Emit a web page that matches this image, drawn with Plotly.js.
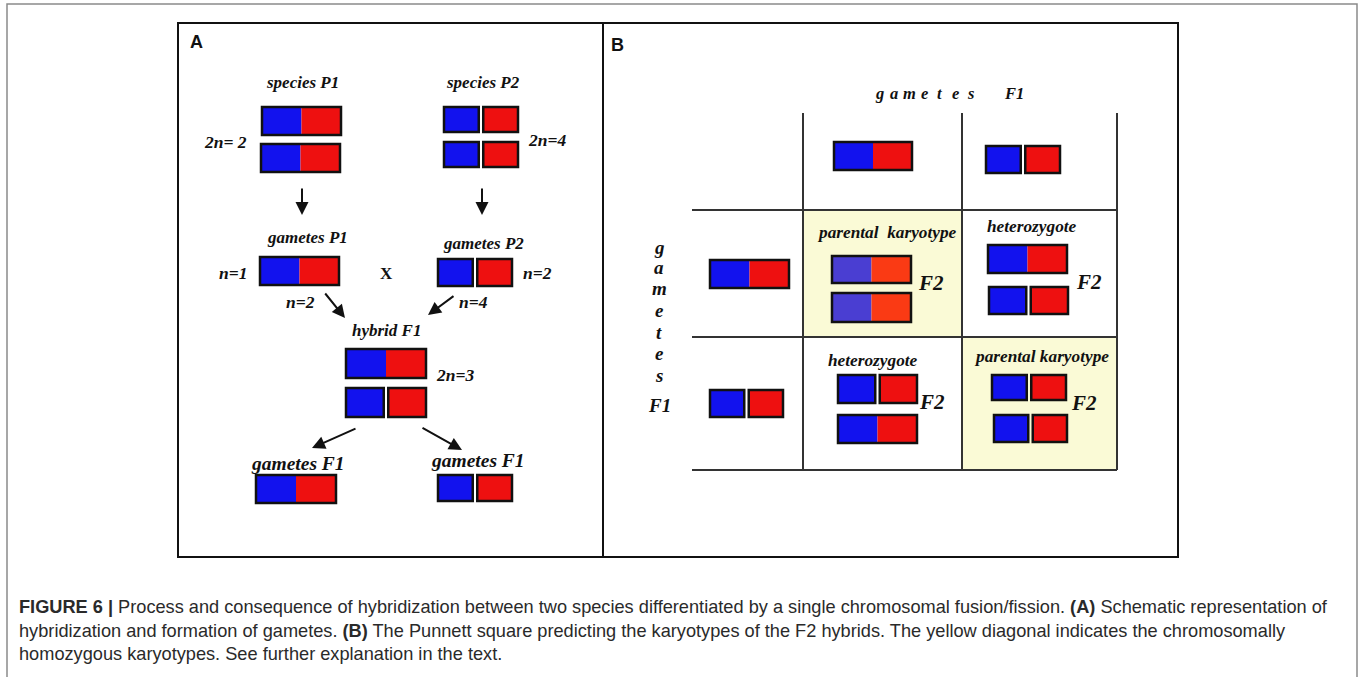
<!DOCTYPE html>
<html><head><meta charset="utf-8">
<script src="https://cdn.plot.ly/plotly-3.0.1.min.js"></script>
<style>html,body{margin:0;padding:0;background:#fff;overflow:hidden;}</style>
</head><body><div id="chart" style="width:1358px;height:677px;"></div>
<script>
// ---------------- data ----------------
const parentP1 = ['fused', 'fused'];          // species P1, 2n=2
const parentP2 = ['split', 'split'];          // species P2, 2n=4
const gameteP1 = ['fused'];                   // n=1
const gameteP2 = ['split'];                   // n=2
const hybridF1 = ['fused', 'split'];          // 2n=3
const gametesF1 = ['fused', 'split'];         // two gamete types of F1
const punnettCells = [
  [['fused', 'fused'], ['fused', 'split']],
  [['split', 'fused'], ['split', 'split']]
];
const cellLabels = [['parental  karyotype', 'heterozygote'], ['heterozygote', 'parental karyotype']];
const homozygous = [[true, false], [false, true]];
const ploidyLabels = ['2n= 2', '2n=4', 'n=1', 'n=2', 'n=2', 'n=4', '2n=3'];
const stageLabels = ['species P1', 'species P2', 'gametes P1', 'gametes P2', 'hybrid F1', 'gametes F1', 'gametes F1'];
const offspringLabel = 'F2';
const punnettAxisLetters = ['g', 'a', 'm', 'e', 't', 'e', 's'];
const punnettAxisGen = 'F1';
const panelLetters = ['A', 'B'];
const captionLines = [
  '<b>FIGURE 6 |</b> Process and consequence of hybridization between two species differentiated by a single chromosomal fusion/fission. <b>(A)</b> Schematic representation of',
  'hybridization and formation of gametes. <b>(B)</b> The Punnett square predicting the karyotypes of the F2 hybrids. The yellow diagonal indicates the chromosomally',
  'homozygous karyotypes. See further explanation in the text.'
];

// ---------------- layout (positions / styles) ----------------
const BLUE = '#1212ee', RED = '#ee1010';
const BLUE2 = '#4a3ed2', RED2 = '#fa3a14';
const YELLOW = '#fafad6';
const shapes = [];
const ann = [];

function rect(x0, y0, x1, y1, fill, lineColor, lw) {
  shapes.push({type: 'rect', xref: 'x', yref: 'y', x0, y0, x1, y1,
    fillcolor: fill || 'rgba(0,0,0,0)',
    line: {color: lineColor || 'rgba(0,0,0,0)', width: lw || 0}});
}
function line(x0, y0, x1, y1, color, w) {
  shapes.push({type: 'line', xref: 'x', yref: 'y', x0, y0, x1, y1, line: {color, width: w}});
}
function chrom(box, type, blue, red) {
  const [x0, y0, x1, y1] = box;
  blue = blue || BLUE; red = red || RED;
  if (type === 'fused') {
    const m = (x0 + x1) / 2;
    rect(x0, y0, m, y1, blue);
    rect(m, y0, x1, y1, red);
    rect(x0, y0, x1, y1, null, '#111', 2.5);
  } else {
    const gap = 4.5;
    const w = (x1 - x0 - gap) / 2;
    rect(x0, y0, x0 + w, y1, blue, '#111', 2.5);
    rect(x1 - w, y0, x1, y1, red, '#111', 2.5);
  }
}
const SERIF = 'Liberation Serif, Times New Roman, serif';
const SANS = 'Liberation Sans, Arial, sans-serif';
function label(text, x, y, size, opts) {
  opts = opts || {};
  ann.push({text, x, y, xref: 'x', yref: 'y', showarrow: false,
    xanchor: opts.xanchor || 'center', yanchor: 'middle',
    font: {family: opts.family || SERIF, size, color: opts.color || '#111',
      style: opts.style || 'italic', weight: opts.weight || 'bold'}});
}
function arrow(x0, y0, x1, y1) {
  ann.push({text: '', x: x1, y: y1, ax: x0, ay: y0, xref: 'x', yref: 'y', axref: 'x', ayref: 'y',
    showarrow: true, arrowhead: 2, arrowsize: 1.3, arrowwidth: 2, arrowcolor: '#111'});
}

// outer frame and panel borders
rect(7, 4, 1357, 700, null, '#8a8a8a', 1.5);
rect(178, 23, 1178, 557, null, '#111', 2);
line(603, 23, 603, 557, '#111', 2);
label(panelLetters[0], 196, 42, 18, {family: SANS, style: 'normal'});
label(panelLetters[1], 617, 45, 18, {family: SANS, style: 'normal'});

// ---- Panel A ----
const slotP1 = [[262, 107, 341, 135], [261, 144, 340, 172]];
const slotP2 = [[444, 107, 518, 132], [444, 142, 518, 167]];
parentP1.forEach((t, i) => chrom(slotP1[i], t));
parentP2.forEach((t, i) => chrom(slotP2[i], t));
chrom([260, 257, 339, 285], gameteP1[0]);
chrom([438, 259, 512, 286], gameteP2[0]);
const slotF1 = [[346, 349, 426, 378], [346, 388, 426, 417]];
hybridF1.forEach((t, i) => chrom(slotF1[i], t));
const slotGF1 = [[256, 475, 336, 503], [438, 475, 512, 501]];
gametesF1.forEach((t, i) => chrom(slotGF1[i], t));

const stagePos = [[302, 82], [483, 82], [307, 237], [483, 243], [386, 330], [298, 463], [478, 460]];
const stageSize = [17, 17, 17, 17, 17, 19.5, 19.5];
stageLabels.forEach((s, i) => label(s, stagePos[i][0], stagePos[i][1], stageSize[i]));
const ploidyPos = [[225, 142], [547, 140], [233, 273], [537, 273], [300, 302], [473, 302], [455, 375]];
ploidyLabels.forEach((s, i) => label(s, ploidyPos[i][0], ploidyPos[i][1], 17.5));
label('X', 386, 273, 17, {style: 'normal'});

arrow(302, 187, 302, 215);
arrow(482, 187, 482, 215);
arrow(324, 292, 345, 318);
arrow(455, 295, 428, 315);
arrow(357, 428, 312, 448);
arrow(421, 427, 462, 450);

// ---- Panel B : Punnett square ----
const colX = [803, 962, 1117];
const rowY = [210, 337, 470];
homozygous.forEach((row, r) => row.forEach((h, c) => {
  if (h) rect(colX[c], rowY[r], colX[c + 1], rowY[r + 1], YELLOW);
}));
colX.forEach(x => line(x, 113, x, 470, '#333', 2));
rowY.forEach(y => line(692, y, 1117, y, '#333', 2));

// column header gametes F1 (letter spaced)
const topWord = 'gametes';
topWord.split('').forEach((ch, i) => label(ch, 879 + i * 15.2, 93, 16.5));
label(punnettAxisGen, 1014, 93, 16.5);
// row header (vertical)
const vY = [247, 267, 288, 310, 332, 353, 375];
punnettAxisLetters.forEach((ch, i) => label(ch, 659, vY[i], 19));
label(punnettAxisGen, 659, 405, 19);

const colHead = [[834, 142, 912, 170], [986, 146, 1060, 173]];
const rowHead = [[710, 260, 789, 288], [710, 390, 783, 417]];
gametesF1.forEach((t, i) => chrom(colHead[i], t));
gametesF1.forEach((t, i) => chrom(rowHead[i], t));

const cellSlots = [
  [[[832, 256, 911, 283], [832, 293, 911, 322]], [[988, 245, 1067, 273], [989, 287, 1068, 314]]],
  [[[838, 375, 917, 403], [838, 415, 917, 443]], [[992, 375, 1066, 400], [994, 415, 1067, 442]]]
];
const cellLabelPos = [[[815, 232, 'left'], [1032, 226, 'center']], [[873, 360, 'center'], [1041, 356, 'center']]];
const f2Pos = [[[931, 283], [1089, 282]], [[932, 402], [1084, 403]]];
punnettCells.forEach((row, r) => row.forEach((cell, c) => {
  const pale = (r === 0 && c === 0);
  cell.forEach((t, k) => chrom(cellSlots[r][c][k], t, pale ? BLUE2 : null, pale ? RED2 : null));
  const p = cellLabelPos[r][c];
  label(cellLabels[r][c], p[0], p[1], 17.3, {xanchor: p[2]});
  label(offspringLabel, f2Pos[r][c][0], f2Pos[r][c][1], 21);
}));

// caption
const capY = [607, 631, 654];
captionLines.forEach((t, i) => ann.push({text: t, x: 17, y: capY[i], xref: 'x', yref: 'y',
  showarrow: false, xanchor: 'left', yanchor: 'middle', align: 'left',
  font: {family: SANS, size: 18.2, color: '#2a2a2a'}}));

const layout = {
  width: 1358, height: 677,
  margin: {l: 0, r: 0, t: 0, b: 0},
  paper_bgcolor: '#fff', plot_bgcolor: '#fff',
  xaxis: {range: [0, 1358], visible: false, fixedrange: true},
  yaxis: {range: [677, 0], visible: false, fixedrange: true},
  shapes, annotations: ann, showlegend: false
};
Plotly.newPlot('chart', [{x: [], y: [], type: 'scatter'}], layout, {staticPlot: true});
</script></body></html>
